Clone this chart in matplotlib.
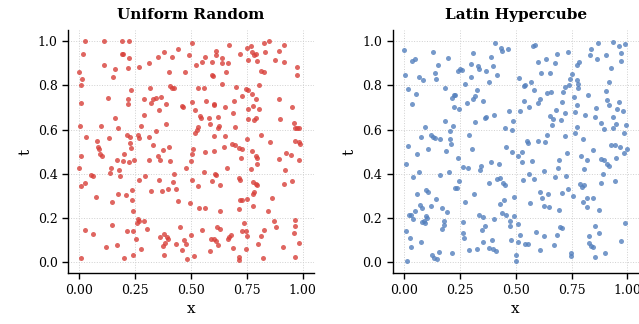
import numpy as np
import matplotlib
matplotlib.use("Agg")
import matplotlib.pyplot as plt

# (x, t) samples drawn with plain uniform sampling
uniform_pts = [
    (0.027, 1.0), (0.11, 1.0), (0.19, 1.0), (0.223, 1.0), (0.019, 0.94), (0.19, 0.94), (0.198, 0.94),
    (0.225, 0.926), (0.354, 0.93), (0.38, 0.95), (0.417, 0.93), (0.44, 0.965), (0.11, 0.89), (0.16, 0.874),
    (0.22, 0.877), (0.268, 0.883), (0.31, 0.9), (0.0, 0.86), (0.40, 0.86), (0.473, 0.86), (0.012, 0.83),
    (0.153, 0.84), (0.009, 0.80), (0.232, 0.78), (0.316, 0.79), (0.406, 0.795), (0.417, 0.79), (0.425, 0.786),
    (0.13, 0.744), (0.22, 0.736), (0.22, 0.714), (0.289, 0.74), (0.332, 0.74), (0.345, 0.744), (0.366, 0.747),
    (0.32, 0.72), (0.39, 0.717), (0.357, 0.69), (0.458, 0.708), (0.466, 0.70), (0.006, 0.72), (0.289, 0.665),
    (0.16, 0.65), (0.003, 0.614), (0.098, 0.614), (0.173, 0.608), (0.277, 0.617), (0.387, 0.623), (0.345, 0.595),
    (0.03, 0.568), (0.134, 0.562), (0.214, 0.574), (0.229, 0.565), (0.265, 0.574), (0.268, 0.562), (0.31, 0.568),
    (0.079, 0.55), (0.226, 0.54), (0.332, 0.532), (0.40, 0.523), (0.375, 0.508), (0.082, 0.52), (0.089, 0.51),
    (0.232, 0.517), (0.2, 0.49),
    (0.503, 0.992), (0.67, 0.983), (0.768, 0.98), (0.75, 0.968), (0.827, 0.992), (0.851, 0.999), (0.914, 0.983),
    (0.491, 0.938), (0.5625, 0.929), (0.61, 0.956), (0.61, 0.938), (0.717, 0.944), (0.774, 0.95), (0.78, 0.938),
    (0.789, 0.94), (0.83, 0.953), (0.893, 0.956), (0.521, 0.892), (0.548, 0.905), (0.592, 0.905), (0.637, 0.923),
    (0.64, 0.899), (0.664, 0.901), (0.756, 0.914), (0.795, 0.91), (0.875, 0.914), (0.917, 0.908), (0.592, 0.847),
    (0.598, 0.844), (0.655, 0.862), (0.815, 0.865), (0.827, 0.86), (0.973, 0.883), (0.973, 0.847), (0.533, 0.786),
    (0.557, 0.79), (0.637, 0.805), (0.70, 0.793), (0.747, 0.783), (0.756, 0.78), (0.804, 0.80), (0.729, 0.753),
    (0.774, 0.762), (0.789, 0.738), (0.506, 0.723), (0.566, 0.729), (0.601, 0.717), (0.604, 0.71), (0.693, 0.729),
    (0.893, 0.738), (0.518, 0.69), (0.652, 0.701), (0.756, 0.695), (0.777, 0.708), (0.804, 0.695), (0.952, 0.701),
    (0.69, 0.677), (0.542, 0.662), (0.545, 0.65), (0.58, 0.65), (0.619, 0.656), (0.756, 0.647), (0.78, 0.641),
    (0.79, 0.653), (0.899, 0.647), (0.586, 0.623), (0.533, 0.61), (0.527, 0.60), (0.619, 0.608), (0.625, 0.617),
    (0.696, 0.61), (0.961, 0.629), (0.967, 0.608), (0.976, 0.605), (0.985, 0.605), (0.518, 0.586), (0.604, 0.571),
    (0.652, 0.571), (0.75, 0.559), (0.8125, 0.574), (0.854, 0.544), (0.964, 0.55), (0.985, 0.544), (0.988, 0.535),
    (0.684, 0.535), (0.696, 0.529), (0.646, 0.523), (0.714, 0.517), (0.726, 0.51), (0.509, 0.51), (0.5625, 0.499),
    (0.604, 0.501), (0.771, 0.501), (0.923, 0.492),
    (0.095, 0.49), (0.101, 0.482), (0.006, 0.479), (0.351, 0.482), (0.167, 0.464), (0.196, 0.458), (0.223, 0.451),
    (0.247, 0.464), (0.31, 0.46), (0.363, 0.464), (0.408, 0.458), (0.0, 0.427), (0.143, 0.427), (0.179, 0.415),
    (0.14, 0.403), (0.184, 0.39), (0.054, 0.394), (0.063, 0.388), (0.295, 0.39), (0.425, 0.397), (0.479, 0.427),
    (0.268, 0.37), (0.357, 0.373), (0.42, 0.364), (0.006, 0.345), (0.024, 0.358), (0.235, 0.327), (0.321, 0.324),
    (0.369, 0.324), (0.396, 0.33), (0.431, 0.33), (0.175, 0.309), (0.211, 0.303), (0.074, 0.294), (0.238, 0.282),
    (0.146, 0.27), (0.443, 0.276), (0.241, 0.23), (0.265, 0.194), (0.259, 0.176), (0.268, 0.185), (0.292, 0.188),
    (0.146, 0.17), (0.304, 0.149), (0.45, 0.158), (0.027, 0.145), (0.06, 0.127), (0.214, 0.14), (0.241, 0.14),
    (0.36, 0.112), (0.378, 0.127), (0.393, 0.115), (0.399, 0.106), (0.256, 0.103), (0.384, 0.088), (0.375, 0.073),
    (0.434, 0.082), (0.467, 0.10), (0.476, 0.082), (0.122, 0.067), (0.17, 0.076), (0.277, 0.06), (0.381, 0.033),
    (0.241, 0.033), (0.009, 0.018), (0.20, 0.018), (0.482, 0.015),
    (0.503, 0.488), (0.50, 0.458), (0.946, 0.485), (0.723, 0.473), (0.79, 0.479), (0.797, 0.473), (0.797, 0.442),
    (0.893, 0.467), (0.982, 0.464), (0.661, 0.427), (0.768, 0.421), (0.92, 0.415), (0.56, 0.409), (0.607, 0.397),
    (0.613, 0.394), (0.714, 0.379), (0.72, 0.373), (0.503, 0.373), (0.592, 0.367), (0.777, 0.364), (0.789, 0.355),
    (0.795, 0.349), (0.917, 0.355), (0.95, 0.367), (0.53, 0.345), (0.631, 0.351), (0.78, 0.318), (0.777, 0.306),
    (0.86, 0.291), (0.717, 0.279), (0.726, 0.282), (0.75, 0.285), (0.497, 0.267), (0.777, 0.255), (0.536, 0.245),
    (0.5625, 0.245), (0.714, 0.242), (0.631, 0.23), (0.845, 0.23), (0.872, 0.185), (0.967, 0.191), (0.735, 0.176),
    (0.616, 0.16), (0.631, 0.151), (0.878, 0.16), (0.964, 0.164), (0.961, 0.13), (0.548, 0.145), (0.729, 0.14),
    (0.744, 0.14), (0.75, 0.118), (0.827, 0.145), (0.50, 0.121), (0.67, 0.115), (0.679, 0.121), (0.589, 0.106),
    (0.604, 0.103), (0.61, 0.097), (0.815, 0.118), (0.622, 0.079), (0.664, 0.106), (0.80, 0.082), (0.982, 0.085),
    (0.458, 0.055), (0.583, 0.049), (0.69, 0.064), (0.744, 0.058), (0.911, 0.067), (0.512, 0.027), (0.714, 0.021),
    (0.714, 0.009), (0.824, 0.018), (0.967, 0.021),
]

# (x, t) samples drawn with Latin hypercube sampling
lhs_pts = [
    (0.003, 0.96), (0.13, 0.95), (0.198, 0.924), (0.038, 0.91), (0.05, 0.92), (0.31, 0.945), (0.39, 0.93),
    (0.41, 0.99), (0.434, 0.97), (0.437, 0.957), (0.464, 0.966), (0.155, 0.89), (0.14, 0.858), (0.242, 0.867),
    (0.251, 0.873), (0.26, 0.87), (0.302, 0.897), (0.33, 0.888), (0.335, 0.876), (0.368, 0.864), (0.398, 0.888),
    (0.419, 0.846), (0.006, 0.849), (0.066, 0.84), (0.084, 0.822), (0.146, 0.828), (0.302, 0.837), (0.272, 0.807),
    (0.383, 0.816), (0.018, 0.783), (0.186, 0.789), (0.326, 0.78), (0.054, 0.762), (0.225, 0.756), (0.23, 0.758),
    (0.216, 0.743), (0.32, 0.752), (0.308, 0.74), (0.036, 0.716), (0.281, 0.72), (0.356, 0.729), (0.225, 0.702),
    (0.248, 0.693), (0.47, 0.683), (0.362, 0.65), (0.368, 0.656), (0.404, 0.665), (0.186, 0.638), (0.32, 0.635),
    (0.488, 0.638), (0.096, 0.611), (0.222, 0.617), (0.207, 0.595), (0.452, 0.605), (0.482, 0.599), (0.123, 0.577),
    (0.132, 0.565), (0.141, 0.562), (0.075, 0.565), (0.164, 0.557), (0.207, 0.559), (0.29, 0.577), (0.212, 0.535),
    (0.021, 0.526), (0.11, 0.514), (0.305, 0.511), (0.455, 0.52), (0.189, 0.505), (0.057, 0.49), (0.485, 0.499),
    (0.577, 0.98), (0.587, 0.983), (0.733, 0.95), (0.686, 0.941), (0.838, 0.963), (0.832, 0.939), (0.868, 0.99),
    (0.937, 0.997), (0.961, 0.979), (0.991, 0.988), (0.97, 0.945), (0.904, 0.936), (0.865, 0.918), (0.973, 0.912),
    (0.602, 0.906), (0.635, 0.921), (0.674, 0.90), (0.773, 0.894), (0.784, 0.906), (0.928, 0.879), (0.614, 0.855),
    (0.653, 0.858), (0.752, 0.852), (0.515, 0.834), (0.569, 0.816), (0.536, 0.798), (0.542, 0.80), (0.743, 0.828),
    (0.775, 0.822), (0.778, 0.804), (0.916, 0.813), (0.722, 0.792), (0.739, 0.801), (0.584, 0.78), (0.641, 0.765),
    (0.659, 0.771), (0.71, 0.771), (0.781, 0.786), (0.823, 0.758), (0.904, 0.774), (0.761, 0.747), (0.608, 0.74),
    (0.907, 0.734), (0.539, 0.731), (0.599, 0.722), (0.707, 0.725), (0.964, 0.725), (0.775, 0.71), (0.56, 0.701),
    (0.919, 0.71), (0.859, 0.698), (0.955, 0.692), (0.979, 0.686), (0.518, 0.686), (0.68, 0.689), (0.719, 0.674),
    (0.764, 0.68), (0.811, 0.668), (0.653, 0.662), (0.665, 0.647), (0.703, 0.644), (0.856, 0.656), (0.934, 0.659),
    (0.662, 0.62), (0.773, 0.611), (0.883, 0.629), (0.949, 0.626), (0.994, 0.62), (0.895, 0.602), (0.937, 0.605),
    (0.764, 0.584), (0.985, 0.586), (0.641, 0.575), (0.722, 0.572), (0.551, 0.548), (0.554, 0.541), (0.602, 0.55),
    (0.632, 0.544), (0.802, 0.557), (0.928, 0.532), (0.943, 0.532), (0.967, 0.523), (1.0, 0.511), (0.985, 0.496),
    (0.527, 0.499), (0.728, 0.496), (0.847, 0.508),
    (0.009, 0.443), (0.243, 0.473), (0.263, 0.431), (0.287, 0.425), (0.347, 0.437), (0.341, 0.416), (0.389, 0.452),
    (0.425, 0.443), (0.066, 0.41), (0.20, 0.407), (0.164, 0.392), (0.042, 0.383), (0.248, 0.368), (0.38, 0.356),
    (0.419, 0.374), (0.431, 0.38), (0.443, 0.359), (0.452, 0.347), (0.23, 0.335), (0.236, 0.335), (0.099, 0.326),
    (0.108, 0.317), (0.06, 0.308), (0.315, 0.308), (0.144, 0.286), (0.491, 0.295), (0.449, 0.283), (0.275, 0.271),
    (0.072, 0.259), (0.081, 0.247), (0.12, 0.256), (0.428, 0.265), (0.048, 0.232), (0.033, 0.214), (0.173, 0.244),
    (0.191, 0.226), (0.024, 0.214), (0.042, 0.196), (0.099, 0.208), (0.105, 0.199), (0.09, 0.187), (0.081, 0.181),
    (0.093, 0.178), (0.18, 0.187), (0.182, 0.169), (0.173, 0.148), (0.335, 0.211), (0.353, 0.202), (0.404, 0.196),
    (0.44, 0.22), (0.458, 0.214), (0.491, 0.208), (0.473, 0.187), (0.263, 0.181), (0.362, 0.163), (0.35, 0.145),
    (0.473, 0.163), (0.009, 0.142), (0.266, 0.133), (0.269, 0.109), (0.03, 0.111), (0.395, 0.102), (0.479, 0.102),
    (0.075, 0.09), (0.356, 0.093), (0.033, 0.069), (0.293, 0.054), (0.329, 0.057), (0.38, 0.066), (0.401, 0.06),
    (0.413, 0.048), (0.216, 0.039), (0.128, 0.033), (0.137, 0.018), (0.149, 0.012), (0.158, 0.045), (0.015, 0.006),
    (0.509, 0.479), (0.527, 0.452), (0.572, 0.458), (0.692, 0.462), (0.793, 0.482), (0.818, 0.464), (0.88, 0.467),
    (0.895, 0.462), (0.91, 0.443), (0.919, 0.434), (0.949, 0.473), (0.689, 0.425), (0.629, 0.413), (0.805, 0.422),
    (0.56, 0.401), (0.892, 0.401), (0.674, 0.386), (0.725, 0.389), (0.533, 0.371), (0.58, 0.377), (0.946, 0.368),
    (0.787, 0.353), (0.799, 0.341), (0.808, 0.347), (0.883, 0.356), (0.734, 0.329), (0.611, 0.319), (0.647, 0.308),
    (0.617, 0.292), (0.707, 0.314), (0.755, 0.301), (0.82, 0.29), (0.847, 0.292), (0.802, 0.274), (0.565, 0.268),
    (0.629, 0.256), (0.65, 0.25), (0.818, 0.25), (0.694, 0.235), (0.871, 0.235), (0.509, 0.172), (0.70, 0.16),
    (0.709, 0.154), (0.853, 0.165), (0.991, 0.175), (0.593, 0.136), (0.683, 0.124), (0.521, 0.124), (0.626, 0.118),
    (0.826, 0.12), (0.874, 0.133), (0.509, 0.09), (0.542, 0.084), (0.554, 0.081), (0.829, 0.087), (0.836, 0.075),
    (0.845, 0.069), (0.973, 0.096), (0.671, 0.078), (0.608, 0.054), (0.898, 0.042), (0.856, 0.024), (0.748, 0.039),
    (0.746, 0.027), (0.503, 0.03), (0.50, 0.006),
]

panels = [
    ("Uniform Random", uniform_pts, "#d8403a"),
    ("Latin Hypercube", lhs_pts, "#5480bd"),
]

plt.rcParams["font.family"] = "DejaVu Serif"

fig = plt.figure(figsize=(6.39, 3.24), dpi=100)
lefts = [0.1064, 0.6144]

for left, (title, pts, color) in zip(lefts, panels):
    ax = fig.add_axes([left, 0.157, 0.385, 0.75])
    pts = np.array(pts)
    ax.scatter(pts[:, 0], pts[:, 1], s=13, color=color, alpha=0.8, linewidths=0, zorder=3)

    ax.set_xlim(-0.05, 1.05)
    ax.set_ylim(-0.05, 1.05)
    ax.set_xticks([0.0, 0.25, 0.5, 0.75, 1.0])
    ax.set_yticks([0.0, 0.2, 0.4, 0.6, 0.8, 1.0])
    ax.set_xticklabels(["0.00", "0.25", "0.50", "0.75", "1.00"])
    ax.set_yticklabels(["0.0", "0.2", "0.4", "0.6", "0.8", "1.0"])
    ax.tick_params(labelsize=9, length=4, width=1.0, direction="out")

    ax.set_title(title, fontsize=11, fontweight="bold", pad=8)
    ax.set_xlabel("x", fontsize=11)
    ax.set_ylabel("t", fontsize=11)

    ax.grid(True, linestyle=":", color="#d0d0d0", linewidth=0.7)
    ax.set_axisbelow(True)
    for side in ("top", "right"):
        ax.spines[side].set_visible(False)
    for side in ("left", "bottom"):
        ax.spines[side].set_linewidth(1.0)

fig.savefig("out.png", dpi=100)
